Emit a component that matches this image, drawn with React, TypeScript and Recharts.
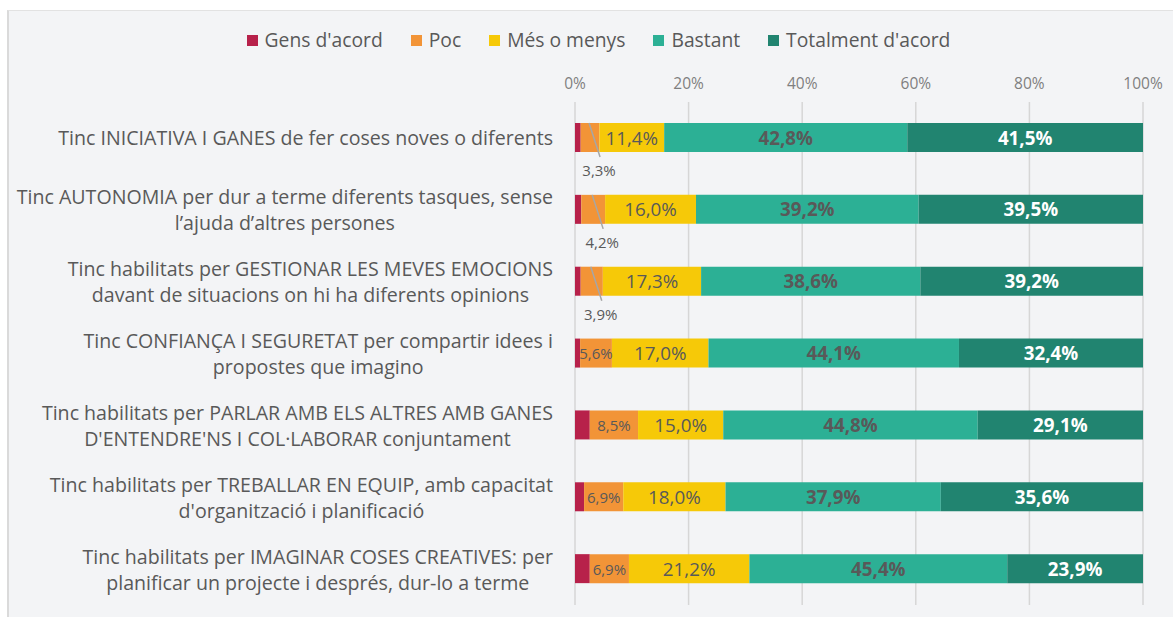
import { Bar, BarChart, CartesianGrid, LabelList, Legend, XAxis, YAxis } from "recharts";

// Survey items, one per row (line breaks as wrapped in the original chart)
const CATEGORIES = [
  "Tinc INICIATIVA I GANES de fer coses noves o diferents",
  "Tinc AUTONOMIA per dur a terme diferents tasques, sense\nl’ajuda d’altres persones",
  "Tinc habilitats per GESTIONAR LES MEVES EMOCIONS\ndavant de situacions on hi ha diferents opinions",
  "Tinc CONFIANÇA I SEGURETAT per compartir idees i\npropostes que imagino",
  "Tinc habilitats per PARLAR AMB ELS ALTRES AMB GANES\nD'ENTENDRE'NS I COL·LABORAR conjuntament",
  "Tinc habilitats per TREBALLAR EN EQUIP, amb capacitat\nd'organització i planificació",
  "Tinc habilitats per IMAGINAR COSES CREATIVES: per\nplanificar un projecte i després, dur-lo a terme",
];

const GENS = [1.0, 1.1, 1.0, 0.9, 2.6, 1.6, 2.6];
const POC = [3.3, 4.2, 3.9, 5.6, 8.5, 6.9, 6.9];
const MES = [11.4, 16.0, 17.3, 17.0, 15.0, 18.0, 21.2];
const BASTANT = [42.8, 39.2, 38.6, 44.1, 44.8, 37.9, 45.4];
const TOTALMENT = [41.5, 39.5, 39.2, 32.4, 29.1, 35.6, 23.9];

const X_TICKS = [0, 20, 40, 60, 80, 100];

const SERIES = [
  { key: "gens", name: "Gens d'acord", color: "#b7214a" },
  { key: "poc", name: "Poc", color: "#f29437" },
  { key: "mes", name: "Més o menys", color: "#f6c908" },
  { key: "bastant", name: "Bastant", color: "#2cb095" },
  { key: "totalment", name: "Totalment d'acord", color: "#218470" },
];

const data = CATEGORIES.map((name, i) => ({
  name,
  gens: GENS[i],
  poc: POC[i],
  mes: MES[i],
  bastant: BASTANT[i],
  totalment: TOTALMENT[i],
}));

const FONT = "'Open Sans', sans-serif";
const TEXT = "#595959";
const CAT_SIZE = 19.6;
const LABEL_RIGHT = 544;

const measureCtx =
  typeof document !== "undefined" ? document.createElement("canvas").getContext("2d") : null;

function textWidth(s: string): number {
  if (!measureCtx) return s.length * 9;
  measureCtx.font = `${CAT_SIZE}px 'Open Sans'`;
  return measureCtx.measureText(s).width;
}

function fmt(v: number): string {
  return v.toFixed(1).replace(".", ",") + "%";
}

function CategoryTick({ y, payload }: any) {
  const lines = String(payload.value).split("\n");
  const maxW = Math.max(...lines.map(textWidth));
  const cx = LABEL_RIGHT - maxW / 2;
  const lh = 26;
  const y0 = y - ((lines.length - 1) * lh) / 2;
  return (
    <text fill={TEXT} fontSize={CAT_SIZE} fontFamily={FONT} textAnchor="middle">
      {lines.map((l, i) => (
        <tspan key={i} x={cx} y={y0 + i * lh} dominantBaseline="central">
          {l}
        </tspan>
      ))}
    </text>
  );
}

function PercentTick({ x, payload }: any) {
  return (
    <text x={x} y={72} fill="#7f7f7f" fontSize={15.5} fontFamily={FONT} textAnchor="middle" dominantBaseline="central">
      {payload.value}%
    </text>
  );
}

function PocLabel(props: any) {
  const { x, y, width, height, value, index } = props;
  const cx = x + width / 2;
  if (index < 3) {
    return (
      <g>
        <line x1={cx - 1} y1={y} x2={cx + 10} y2={y + 34} stroke="#a6a6a6" strokeWidth={1.5} />
        <text x={cx + 9} y={y + 47} fill={TEXT} fontSize={15} fontFamily={FONT} textAnchor="middle" dominantBaseline="central">
          {fmt(value)}
        </text>
      </g>
    );
  }
  return (
    <text x={cx} y={y + height / 2} fill={TEXT} fontSize={15} fontFamily={FONT} textAnchor="middle" dominantBaseline="central">
      {fmt(value)}
    </text>
  );
}

function makeCenterLabel(fill: string, bold: boolean, size: number) {
  return (props: any) => {
    const { x, y, width, height, value } = props;
    return (
      <text
        x={x + width / 2}
        y={y + height / 2}
        fill={fill}
        fontSize={size}
        fontWeight={bold ? 700 : 400}
        fontFamily={FONT}
        textAnchor="middle"
        dominantBaseline="central"
      >
        {fmt(value)}
      </text>
    );
  };
}

function LegendContent() {
  return (
    <div
      style={{
        display: "flex",
        justifyContent: "center",
        gap: 28,
        paddingLeft: 15,
        fontFamily: FONT,
        fontSize: 19.3,
        color: TEXT,
        lineHeight: "22px",
      }}
    >
      {SERIES.map((s) => (
        <div key={s.key} style={{ display: "flex", alignItems: "center", gap: 7 }}>
          <span style={{ width: 11, height: 11, background: s.color, display: "inline-block" }} />
          <span>{s.name}</span>
        </div>
      ))}
    </div>
  );
}

export default function App() {
  return (
    <div
      style={{
        position: "fixed",
        left: 7,
        top: 10,
        width: 1166,
        height: 607,
        background: "#f3f4f6",
        borderLeft: "2px solid #dadada",
        borderTop: "1px solid #e2e2e2",
        boxSizing: "border-box",
      }}
    >
      <BarChart
        width={1164}
        height={606}
        data={data}
        layout="vertical"
        margin={{ top: 61, right: 30, bottom: 12, left: 0 }}
        barSize={29}
      >
        <CartesianGrid horizontal={false} stroke="#d6d6d6" strokeWidth={1.5} />
        <XAxis
          type="number"
          orientation="top"
          domain={[0, 100]}
          ticks={X_TICKS}
          height={30}
          axisLine={false}
          tickLine={false}
          tick={<PercentTick />}
        />
        <YAxis
          type="category"
          dataKey="name"
          width={566}
          axisLine={false}
          tickLine={false}
          tick={<CategoryTick />}
          interval={0}
        />
        <Legend
          layout="horizontal"
          verticalAlign="middle"
          align="center"
          wrapperStyle={{ top: 18, left: 0, width: 1164 }}
          content={<LegendContent />}
        />
        <Bar dataKey="gens" name="Gens d'acord" stackId="a" fill={SERIES[0].color} isAnimationActive={false} />
        <Bar dataKey="poc" name="Poc" stackId="a" fill={SERIES[1].color} isAnimationActive={false}>
          <LabelList dataKey="poc" content={<PocLabel />} />
        </Bar>
        <Bar dataKey="mes" name="Més o menys" stackId="a" fill={SERIES[2].color} isAnimationActive={false}>
          <LabelList dataKey="mes" content={makeCenterLabel(TEXT, false, 18.8)} />
        </Bar>
        <Bar dataKey="bastant" name="Bastant" stackId="a" fill={SERIES[3].color} isAnimationActive={false}>
          <LabelList dataKey="bastant" content={makeCenterLabel(TEXT, true, 18.8)} />
        </Bar>
        <Bar dataKey="totalment" name="Totalment d'acord" stackId="a" fill={SERIES[4].color} isAnimationActive={false}>
          <LabelList dataKey="totalment" content={makeCenterLabel("#ffffff", true, 18.8)} />
        </Bar>
      </BarChart>
    </div>
  );
}
